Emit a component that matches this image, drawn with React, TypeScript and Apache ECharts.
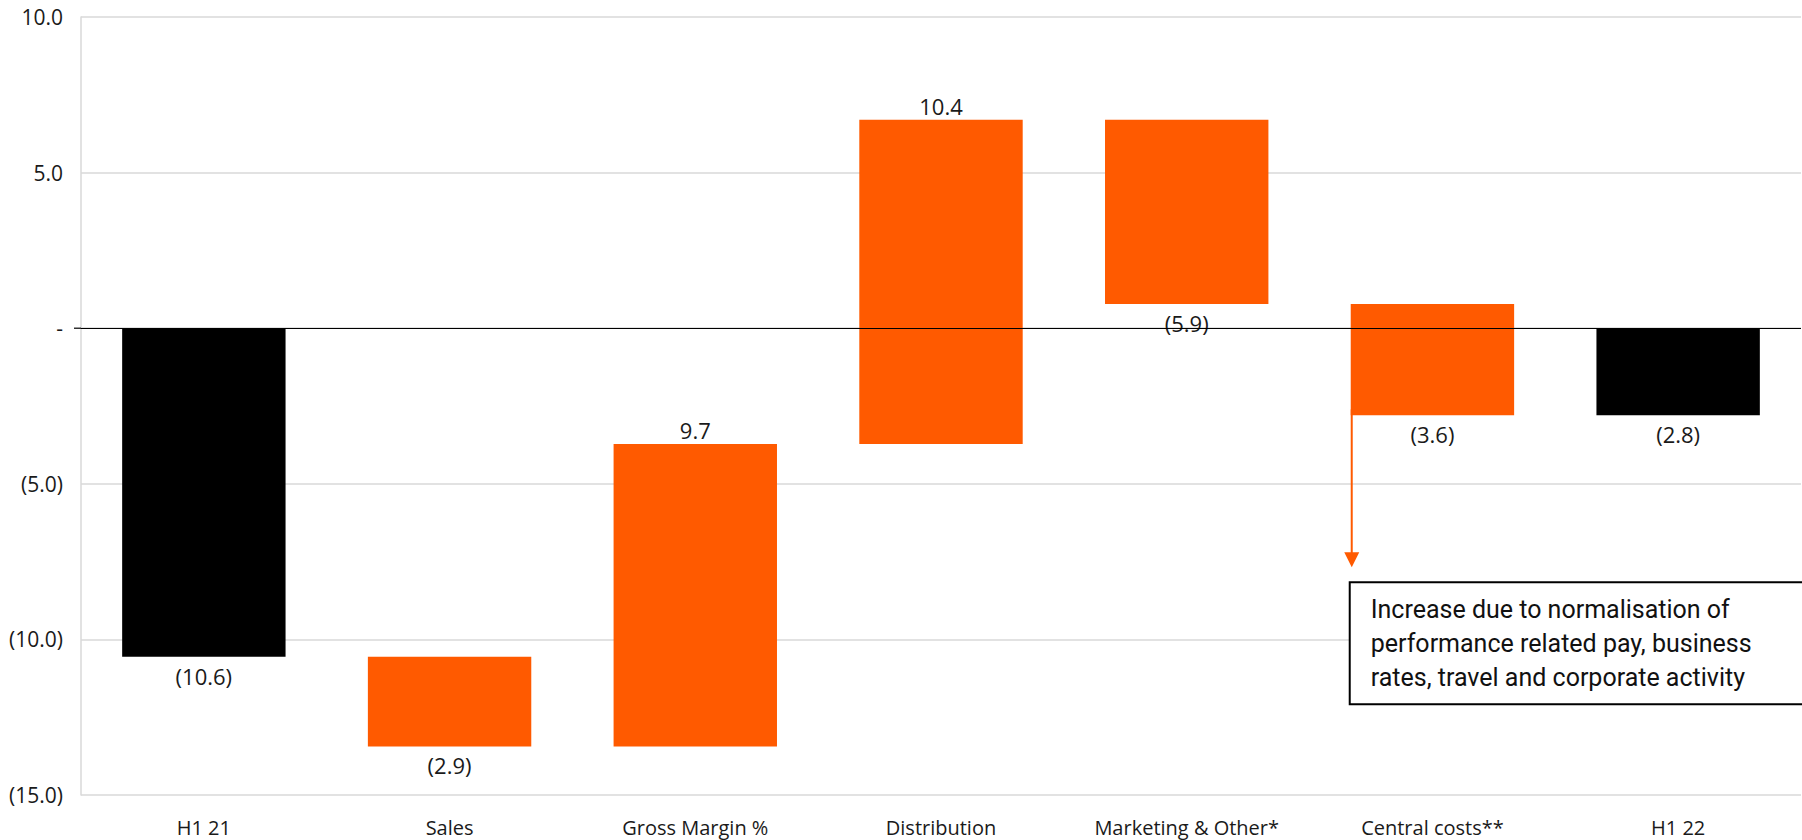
import React, { useEffect, useRef } from "react";
import * as echarts from "echarts";

const categories = [
  "H1 21",
  "Sales",
  "Gross Margin %",
  "Distribution",
  "Marketing & Other*",
  "Central costs**",
  "H1 22",
];
// change per column (totals are absolute values)
const changes = [-10.56, -2.88, 9.72, 10.42, -5.92, -3.58, -2.8];
const isTotal = [true, false, false, false, false, false, true];

const yMin = -15;
const yMax = 10;
const yInterval = 5;

const annotationLines = [
  "Increase due to normalisation of",
  "performance related pay, business",
  "rates, travel and corporate activity",
];
const annotatedIndex = 5;

const ORANGE = "#FF5A00";
const GRID_LEFT = 81;
const GRID_TOP = 17;
const GRID_BOTTOM = 45;
const GRID_RIGHT = 1;
const GAP = 0.335;

const fmt = (v: number) => {
  const r = Math.round(v * 10) / 10;
  if (r === 0) return "-";
  return r < 0 ? `(${Math.abs(r).toFixed(1)})` : r.toFixed(1);
};

export default function App() {
  const ref = useRef<HTMLDivElement>(null);

  useEffect(() => {
    document.body.style.margin = "0";
    document.body.style.overflow = "hidden";
    const chart = echarts.init(ref.current!, null, { renderer: "svg" });

    let level = 0;
    const bases: number[] = [];
    const heights: number[] = [];
    changes.forEach((c, i) => {
      const start = isTotal[i] ? 0 : level;
      const end = start + c;
      bases.push(Math.min(start, end));
      heights.push(Math.abs(c));
      level = end;
    });

    const font = "'Open Sans', 'Noto Sans', sans-serif";

    chart.setOption({
      animation: false,
      backgroundColor: "#fff",
      grid: {
        left: GRID_LEFT,
        right: GRID_RIGHT,
        top: GRID_TOP,
        bottom: GRID_BOTTOM,
        containLabel: false,
      },
      xAxis: {
        type: "category",
        data: categories,
        axisLine: { show: false, onZero: false },
        axisTick: { show: false },
        axisLabel: {
          fontFamily: font,
          fontSize: 20,
          color: "#1a1a1a",
          margin: 22,
          interval: 0,
        },
        splitLine: { show: false },
      },
      yAxis: {
        type: "value",
        min: yMin,
        max: yMax,
        interval: yInterval,
        axisLine: { show: true, lineStyle: { color: "#d9d9d9", width: 1.5 } },
        axisTick: { show: false },
        splitLine: { show: true, lineStyle: { color: "#d9d9d9", width: 1.5 } },
        axisLabel: {
          fontFamily: font,
          fontSize: 21,
          color: "#1a1a1a",
          margin: 18,
          formatter: (v: number) => fmt(v),
        },
      },
      series: [
        {
          type: "bar",
          stack: "w",
          stackStrategy: "all",
          silent: true,
          barCategoryGap: `${GAP * 100}%`,
          itemStyle: { color: "rgba(0,0,0,0)" },
          data: bases,
        },
        {
          type: "bar",
          stack: "w",
          stackStrategy: "all",
          barCategoryGap: `${GAP * 100}%`,
          data: heights.map((h, i) => ({
            value: h,
            itemStyle: { color: isTotal[i] ? "#000" : ORANGE },
            label: {
              position: changes[i] >= 0 ? "top" : "bottom",
              distance: changes[i] >= 0 ? 3 : 8,
            },
          })),
          label: {
            show: true,
            fontFamily: font,
            fontSize: 22,
            lineHeight: 22,
            color: "#1a1a1a",
            formatter: (p: any) => fmt(changes[p.dataIndex]),
          },
          markLine: {
            silent: true,
            symbol: ["none", "none"],
            label: { show: false },
            lineStyle: { color: "#000", width: 1.2, type: "solid" },
            data: [{ yAxis: 0 }],
          },
        },
      ],
    });

    const toPx = (i: number, v: number) =>
      chart.convertToPixel({ xAxisIndex: 0, yAxisIndex: 0 }, [i, v]) as number[];
    const [cx, yBottom] = toPx(annotatedIndex, bases[annotatedIndex]);
    const [cx2] = toPx(annotatedIndex + 1, 0);
    const band = cx2 - cx;
    const barW = band * (1 - GAP);
    const barLeft = cx - barW / 2;
    const [, yZero] = toPx(0, 0);
    const ax = barLeft + 1;
    const boxTop = yBottom + 167;
    const boxH = 122;

    chart.setOption({
      graphic: [
        {
          type: "line",
          shape: { x1: GRID_LEFT - 7, y1: yZero, x2: GRID_LEFT, y2: yZero },
          style: { stroke: "#000", lineWidth: 1.2 },
          z: 100,
        },
        {
          type: "line",
          shape: { x1: ax, y1: yBottom - 6, x2: ax, y2: yBottom + 140 },
          style: { stroke: ORANGE, lineWidth: 2 },
          z: 100,
        },
        {
          type: "polygon",
          shape: {
            points: [
              [ax - 7.5, yBottom + 137],
              [ax + 7.5, yBottom + 137],
              [ax, yBottom + 152],
            ],
          },
          style: { fill: ORANGE },
          z: 100,
        },
        {
          type: "rect",
          shape: { x: barLeft - 1, y: boxTop, width: 480, height: boxH },
          style: { fill: "#fff", stroke: "#000", lineWidth: 2 },
          z: 100,
        },
        {
          type: "text",
          x: barLeft + 20,
          y: boxTop + boxH / 2,
          style: {
            text: annotationLines.join("\n"),
            fontFamily: "Roboto, sans-serif",
            fontSize: 25,
            lineHeight: 34,
            fill: "#111",
            verticalAlign: "middle",
            align: "left",
          },
          z: 101,
        },
      ],
    });

    return () => chart.dispose();
  }, []);

  return <div ref={ref} style={{ width: 1802, height: 840 }} />;
}
